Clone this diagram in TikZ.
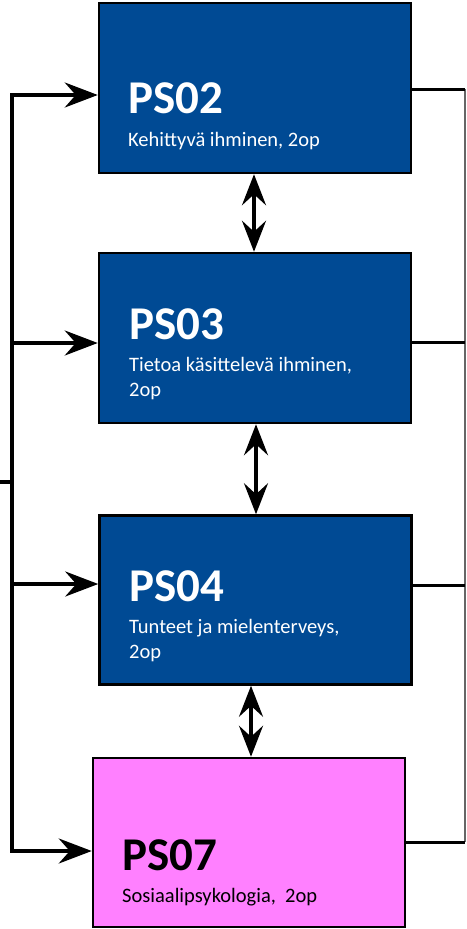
\documentclass[tikz,border=0pt]{standalone}
\usepackage{fontspec}
\setmainfont{Carlito}
\usetikzlibrary{arrows.meta}
\definecolor{psblue}{RGB}{0,74,148}
\definecolor{pspink}{RGB}{255,128,255}
\tikzset{
  course/.style={draw=black, line width=2.5pt, minimum width=312pt, minimum height=170pt, inner sep=0pt},
  bluebox/.style={course, fill=psblue},
  pinkbox/.style={course, fill=pspink},
  titletext/.style={anchor=base west, inner sep=0pt, font=\fontsize{47}{47}\selectfont\bfseries},
  subtext/.style={anchor=base west, inner sep=0pt, align=left, font=\fontsize{20.5}{25}\selectfont},
  conn/.style={line width=3.5pt, black},
  feed/.style={conn, -{Stealth[length=33pt, width=25pt, inset=11pt]}},
  mutual/.style={conn, {Stealth[length=31pt, width=24pt, inset=11pt]}-{Stealth[length=31pt, width=24pt, inset=11pt]}},
  rightline/.style={line width=3pt, black},
}
\begin{document}
\begin{tikzpicture}[x=1pt, y=-1pt]
\useasboundingbox (0,0) rectangle (466,929);
% boxes
\node[bluebox] (ps02) at (255,88) {};
\node[bluebox] (ps03) at (255,338) {};
\node[bluebox, minimum height=169pt] (ps04) at (255.5,600) {};
\node[pinkbox, minimum height=169pt] (ps07) at (249,842.5) {};
% texts
\node[titletext, text=white] (t02) at (128,113) {PS02};
\node[subtext, text=white] (s02) at (128,146) {Kehittyvä ihminen, 2op};
\node[titletext, text=white] (t03) at (129,339) {PS03};
\node[subtext, text=white] (s03) at (129,396) {Tietoa käsittelevä ihminen,\\2op};
\node[titletext, text=white] (t04) at (129,601) {PS04};
\node[subtext, text=white] (s04) at (129,658) {Tunteet ja mielenterveys,\\2op};
\node[titletext, text=black] (t07) at (122,870) {PS07};
\node[subtext, text=black] (s07) at (122,902) {Sosiaalipsykologia,\ \ 2op};
% left spine
\coordinate (lin) at (0,482);
\coordinate (lmid) at (12,482);
\coordinate (l2) at (12,95);
\coordinate (l3) at (12,343);
\coordinate (l4) at (12,584);
\coordinate (l7) at (12,851);
\draw[conn] (lin) -- (lmid);
\draw[conn, line cap=rect] (l2) -- (l7);
\draw[feed] (l2) -- (l2 -| ps02.west);
\draw[feed] (l3) -- (l3 -| ps03.west);
\draw[feed] (l4) -- (l4 -| ps04.west);
\draw[feed] (l7) -- (l7 -| ps07.west);
% right spine
\coordinate (r2) at (465,89);
\coordinate (r3) at (465,342);
\coordinate (r4) at (465,585);
\coordinate (r7) at (465,842);
\draw[line width=1.2pt, black!60] (r2) -- (r7);
\draw[rightline] (r2 -| ps02.east) -- (r2);
\draw[rightline] (r3 -| ps03.east) -- (r3);
\draw[rightline] (r4 -| ps04.east) -- (r4);
\draw[rightline] (r7 -| ps07.east) -- (r7);
% mutual arrows
\coordinate (m1) at (254,0);
\coordinate (m2) at (256,0);
\coordinate (m3) at (251,0);
\draw[mutual] (ps02.south -| m1) -- (ps03.north -| m1);
\draw[mutual] (ps03.south -| m2) -- (ps04.north -| m2);
\draw[mutual] (ps04.south -| m3) -- (ps07.north -| m3);
\end{tikzpicture}
\end{document}
